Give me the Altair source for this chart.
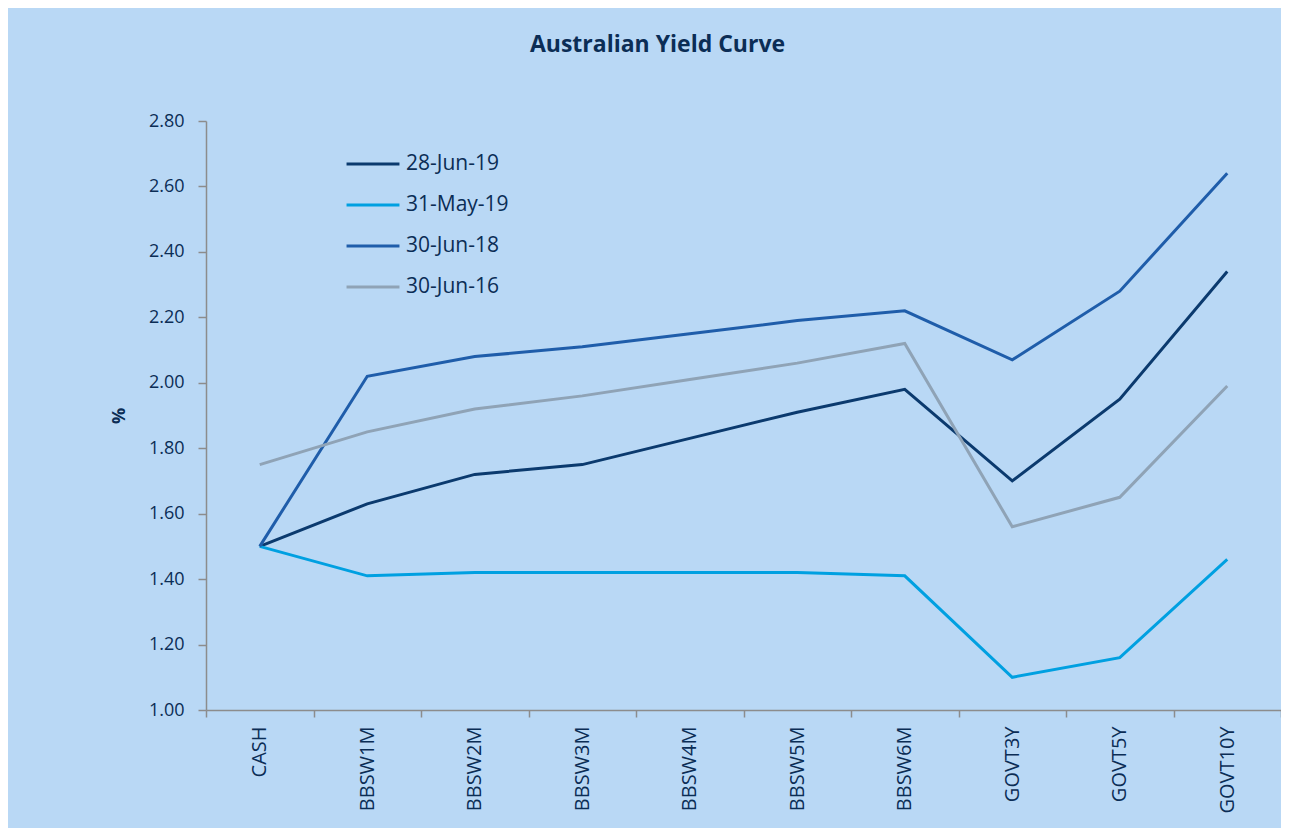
import altair as alt
import pandas as pd

tenors = ["CASH", "BBSW1M", "BBSW2M", "BBSW3M", "BBSW4M", "BBSW5M", "BBSW6M", "GOVT3Y", "GOVT5Y", "GOVT10Y"]
series = ["28-Jun-19", "31-May-19", "30-Jun-18", "30-Jun-16"]
jun19 = [1.50, 1.63, 1.72, 1.75, 1.83, 1.91, 1.98, 1.70, 1.95, 2.34]
may19 = [1.50, 1.41, 1.42, 1.42, 1.42, 1.42, 1.41, 1.10, 1.16, 1.46]
jun18 = [1.50, 2.02, 2.08, 2.11, 2.15, 2.19, 2.22, 2.07, 2.28, 2.64]
jun16 = [1.75, 1.85, 1.92, 1.96, 2.01, 2.06, 2.12, 1.56, 1.65, 1.99]
colors = ["#0B3A6E", "#00A0E1", "#1F5DAA", "#8FA3B6"]

rows = []
for name, vals in zip(series, [jun19, may19, jun18, jun16]):
    for i, (t, v) in enumerate(zip(tenors, vals)):
        rows.append({"tenor": t, "value": v, "series": name, "order": i})
df = pd.DataFrame(rows)

BG = "#B9D8F5"
NAVY = "#0B2D55"
AXIS = "#8C8C8C"
FONT = "Open Sans"

chart = (
    alt.Chart(df)
    .mark_line(strokeWidth=3, strokeJoin="miter")
    .encode(
        x=alt.X(
            "tenor:N",
            sort=tenors,
            scale=alt.Scale(paddingInner=0, paddingOuter=0),
            axis=alt.Axis(
                title=None,
                labelAngle=-90,
                labelFontSize=20,
                labelFont=FONT,
                labelColor=NAVY,
                labelPadding=9,
                tickBand="extent",
                tickSize=7,
                tickColor=AXIS,
                domainColor=AXIS,
                domainWidth=1.5,
                tickWidth=1.5,
                grid=False,
            ),
        ),
        y=alt.Y(
            "value:Q",
            scale=alt.Scale(domain=[1.0, 2.8], nice=False, zero=False),
            axis=alt.Axis(
                title="%",
                titleFont=FONT,
                titleFontSize=18,
                titleFontWeight="bold",
                titleColor=NAVY,
                titlePadding=20,
                values=[1.0, 1.2, 1.4, 1.6, 1.8, 2.0, 2.2, 2.4, 2.6, 2.8],
                format=".2f",
                labelFontSize=18,
                labelFont=FONT,
                labelColor=NAVY,
                labelPadding=14,
                tickSize=8,
                tickColor=AXIS,
                domainColor=AXIS,
                domainWidth=1.5,
                tickWidth=1.5,
                grid=False,
            ),
        ),
        color=alt.Color(
            "series:N",
            sort=series,
            scale=alt.Scale(domain=series, range=colors),
            legend=alt.Legend(
                title=None,
                orient="none",
                legendX=139,
                legendY=15,
                symbolType="stroke",
                symbolSize=2800,
                symbolStrokeWidth=3,
                labelFontSize=21,
                labelFont=FONT,
                labelColor=NAVY,
                labelOffset=5,
                rowPadding=3,
            ),
        ),
        order="order:Q",
    )
    .properties(
        width=1075,
        height=589,
        background=BG,
        padding={"left": 198, "top": 113, "right": 0, "bottom": 118},
        autosize=alt.AutoSizeParams(type="none"),
        title=alt.Title(
            "Australian Yield Curve",
            font=FONT,
            fontSize=23,
            fontWeight="bold",
            color=NAVY,
            anchor="middle",
            dx=-86,
            offset=55,
        ),
    )
    .configure_view(stroke=None)
)

chart.save("out.html", embed_options={"renderer": "svg", "actions": False})
